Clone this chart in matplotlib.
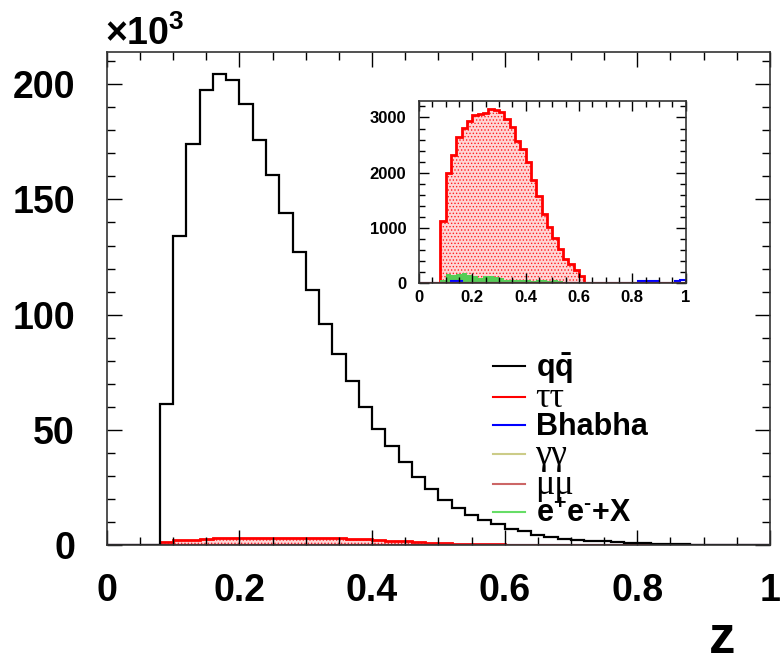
#!/usr/bin/env python3

import numpy as np
import matplotlib
matplotlib.use('Agg')
import matplotlib.pyplot as plt
from matplotlib.lines import Line2D
from matplotlib.ticker import MultipleLocator

plt.rcParams['font.family'] = ['Liberation Sans', 'DejaVu Sans']
plt.rcParams['mathtext.fontset'] = 'custom'
plt.rcParams['mathtext.rm'] = 'Liberation Sans:bold'
plt.rcParams['mathtext.bf'] = 'Liberation Sans:bold'
plt.rcParams['hatch.linewidth'] = 0.6

# 50 bins of 0.02 in z
z_edges = np.linspace(0, 1, 51)

# q qbar (in units of 1000 events), bins 0..49
qq = [0, 0, 0, 0, 61, 134, 174, 197.5, 204.6, 201.9,
      191.6, 176, 160.6, 143.9, 127.1, 110.6, 96.1, 82.8, 71.0, 60.1,
      50.4, 42.8, 35.8, 29.3, 24.2, 19.6, 15.9, 13.0, 10.9, 9.0,
      7.1, 5.9, 4.3, 3.3, 2.6, 2.2, 1.7, 1.5, 1.2, 1.0,
      0.8, 0.6, 0.5, 0.4, 0, 0, 0, 0, 0, 0]

# tau tau (events)
tautau = [0, 0, 0, 0, 1121, 2000, 2315, 2642, 2818, 2927,
          3042, 3067, 3073, 3158, 3127, 3091, 2970, 2836, 2582, 2424,
          2200, 1867, 1576, 1242, 1018, 818, 612, 442, 352, 242,
          127, 0, 0, 0, 0, 0, 0, 0, 0, 0,
          0, 0, 0, 0, 0, 0, 0, 0, 0, 0]

# e+e- + X (events)
eex = [0, 0, 0, 0, 48, 170, 150, 165, 175, 150,
       120, 97, 133, 133, 109, 90, 60, 60, 48, 48,
       48, 36, 60, 48, 36, 48, 36, 24, 12, 0,
       0, 0, 0, 0, 0, 0, 0, 0, 0, 0,
       0, 0, 0, 0, 0, 0, 0, 0, 0, 0]

# Bhabha (events)
bhabha = [0, 0, 0, 0, 0, 0, 30, 30, 0, 0,
          0, 0, 0, 0, 0, 0, 0, 0, 0, 0,
          0, 0, 0, 0, 0, 0, 0, 0, 0, 0,
          0, 0, 0, 0, 0, 0, 0, 0, 0, 0,
          0, 40, 40, 40, 40, 0, 0, 0, 40, 60]

# gamma gamma and mu mu (events)
gg = [0] * 50
mumu = [0] * 50

LABELS = [r'$\mathbf{q}\bar{\mathbf{q}}$', 'ττ', 'Bhabha', 'γγ', 'μμ',
          '$\\mathbf{e^{+}e^{\u2010}}$+X']
COLORS = ['black', '#ff0000', '#0000ff', '#cccc88', '#cc6666', '#66dd66']
GREEK = {'ττ', 'γγ', 'μμ'}


def draw_backgrounds(ax, scale):
    """Draw the non-qq samples"""
    tt = np.array(tautau) / scale
    ax.stairs(tt, z_edges, fill=True, facecolor='#ffd6d6', edgecolor='#ff2020',
              hatch='.....', linewidth=0)
    ax.stairs(tt, z_edges, color='#ff0000', linewidth=2)
    ax.stairs(np.array(eex) / scale, z_edges, fill=True, color='#55cc55', linewidth=0)
    ax.stairs(np.array(bhabha) / scale, z_edges, color='#0000ff', linewidth=1.5)
    ax.stairs(np.array(gg) / scale, z_edges, color='#cccc88', linewidth=1.5)
    ax.stairs(np.array(mumu) / scale, z_edges, color='#cc3333', linewidth=1.5)


def style_axes(ax, size, major_len, minor_len):
    ax.tick_params(which='both', direction='in', top=True, right=True,
                   labelsize=size, width=1)
    ax.tick_params(which='major', length=major_len)
    ax.tick_params(which='minor', length=minor_len)
    for lab in ax.get_xticklabels() + ax.get_yticklabels():
        lab.set_fontweight('bold')
    for sp in ax.spines.values():
        sp.set_linewidth(1.2)
        sp.set_color('#333333')


fig = plt.figure(figsize=(7.8, 6.67), dpi=100)

# main pad
ax = fig.add_axes([0.137, 0.183, 0.85, 0.739])
draw_backgrounds(ax, 1000.0)
ax.stairs(qq, z_edges, color='black', linewidth=1.6)
ax.set_xlim(0, 1)
ax.set_ylim(0, 214)
ax.xaxis.set_major_locator(MultipleLocator(0.2))
ax.xaxis.set_minor_locator(MultipleLocator(0.05))
ax.yaxis.set_major_locator(MultipleLocator(50))
ax.yaxis.set_minor_locator(MultipleLocator(10))
ax.set_xticks([0, 0.2, 0.4, 0.6, 0.8, 1.0], ['0', '0.2', '0.4', '0.6', '0.8', '1'])
style_axes(ax, 27, 11, 6)
ax.tick_params(axis='x', pad=20)
ax.tick_params(axis='y', pad=23)

fig.text(0.134, 0.932, r'$\times\mathbf{10^{3}}$', fontsize=27, va='baseline', ha='left')
fig.text(0.926, 0.004, 'z', fontsize=38, fontweight='bold', ha='center', va='bottom')

# legend
handles = [Line2D([], [], color=c, linewidth=1.5) for c in COLORS]
leg = ax.legend(handles, LABELS, loc='upper left', bbox_to_anchor=(0.582, 0.394),
                frameon=False, fontsize=22, handlelength=1.05, handletextpad=0.35,
                labelspacing=-0.1, borderpad=0, borderaxespad=0)
for t in leg.get_texts():
    if t.get_text() in GREEK:
        t.set_fontfamily(['Liberation Serif', 'DejaVu Serif'])
        t.set_fontweight('normal')
        t.set_fontsize(26)
    else:
        t.set_fontweight('bold')

# inset pad
ins = fig.add_axes([0.537, 0.5757, 0.342, 0.273])
draw_backgrounds(ins, 1.0)
ins.set_xlim(0, 1)
ins.set_ylim(0, 3300)
ins.xaxis.set_major_locator(MultipleLocator(0.2))
ins.xaxis.set_minor_locator(MultipleLocator(0.05))
ins.yaxis.set_major_locator(MultipleLocator(1000))
ins.yaxis.set_minor_locator(MultipleLocator(200))
ins.set_xticks([0, 0.2, 0.4, 0.6, 0.8, 1.0], ['0', '0.2', '0.4', '0.6', '0.8', '1'])
style_axes(ins, 12, 7, 4)
ins.tick_params(axis='x', pad=5)
ins.tick_params(axis='y', pad=9)

fig.savefig('out.png', dpi=100)
plt.close(fig)
